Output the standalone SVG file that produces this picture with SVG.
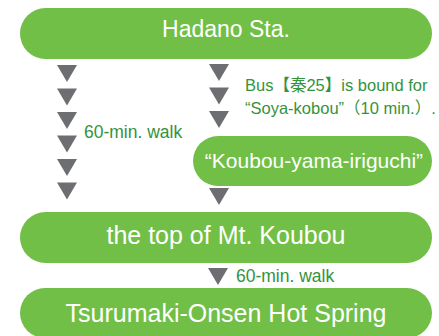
<svg xmlns="http://www.w3.org/2000/svg" width="439" height="336" viewBox="0 0 439 336">
<defs>
<style>
.pill{fill:#71bf46}
.tri{fill:#6d6e71}
.wt{fill:#ffffff;font-family:"Liberation Sans","Noto Sans CJK JP",sans-serif;text-anchor:middle}
.gt{fill:#35933c;font-family:"Liberation Sans","Noto Sans CJK JP",sans-serif;font-size:16.5px}
.walk{font-size:17.5px}
</style>
<path id="tri" d="M-10,0 L10,0 L0,17 Z"/>
</defs>
<rect width="439" height="336" fill="#ffffff"/>
<g id="connectors">
<use href="#tri" class="tri" x="67" y="65"/>
<use href="#tri" class="tri" x="67" y="88.5"/>
<use href="#tri" class="tri" x="67" y="112"/>
<use href="#tri" class="tri" x="67" y="135.5"/>
<use href="#tri" class="tri" x="67" y="159"/>
<use href="#tri" class="tri" x="67" y="182.5"/>
<use href="#tri" class="tri" x="219" y="64"/>
<use href="#tri" class="tri" x="219" y="87.5"/>
<use href="#tri" class="tri" x="219" y="111"/>
<use href="#tri" class="tri" x="219" y="188"/>
<use href="#tri" class="tri" x="218" y="268"/>
<text class="gt walk" x="84" y="138">60-min. walk</text>
<text class="gt" x="245" y="91">Bus【秦25】is bound for</text>
<text class="gt" x="245" y="114">“Soya-kobou”（10 min.）.</text>
<text class="gt walk" x="236" y="282">60-min. walk</text>
</g>
<g id="hadano">
<rect class="pill" x="20" y="8" width="412" height="51" rx="25.5"/>
<text class="wt" x="226" y="37" font-size="23">Hadano Sta.</text>
</g>
<g id="iriguchi">
<rect class="pill" x="193" y="136" width="239" height="50" rx="25"/>
<text class="wt" x="314" y="168" font-size="21">“Koubou-yama-iriguchi”</text>
</g>
<g id="top">
<rect class="pill" x="20" y="212" width="412" height="51" rx="25.5"/>
<text class="wt" x="226" y="244" font-size="25">the top of Mt. Koubou</text>
</g>
<g id="tsurumaki">
<rect class="pill" x="20" y="288" width="412" height="50" rx="25"/>
<text class="wt" x="226" y="322" font-size="25">Tsurumaki-Onsen Hot Spring</text>
</g>
</svg>
